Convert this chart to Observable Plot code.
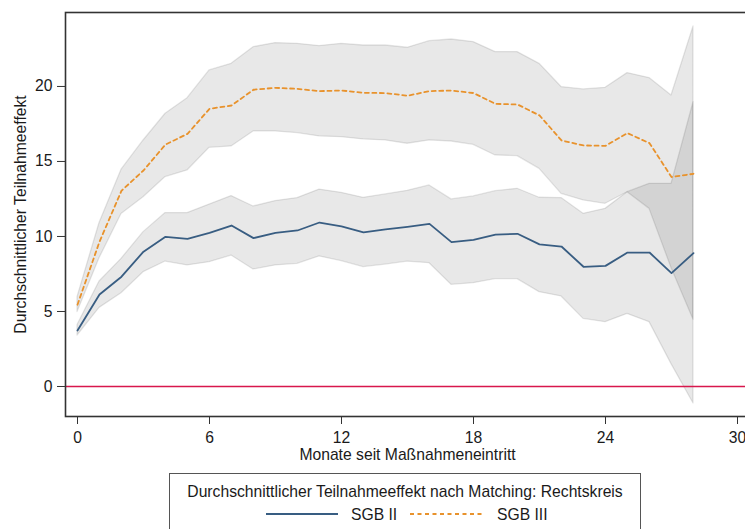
<!DOCTYPE html>
<html><head><meta charset="utf-8">
<script src="https://cdn.jsdelivr.net/npm/d3@7"></script>
<script src="https://cdn.jsdelivr.net/npm/@observablehq/plot@0.6"></script>
<style>
html,body{margin:0;padding:0;background:#fff;overflow:hidden;width:745px;height:529px;}
body{font-family:"Liberation Sans",Arial,sans-serif;position:relative;}
#chart{position:absolute;left:0;top:0;width:760px;}
#chart svg{max-width:none !important;}
#legend{position:absolute;left:169px;top:473px;width:472px;height:80px;border:1px solid #555;box-sizing:border-box;font-size:15.7px;color:#1a1a1a;line-height:20px;}
#legend .t{position:absolute;left:0;right:0;top:7.5px;text-align:center;white-space:nowrap;}
#legend .s{position:absolute;top:30.5px;white-space:nowrap;}
#legend svg{position:absolute;top:35px;}
</style></head><body>
<div id="chart"></div>
<div id="legend"></div>
<script>
// Months since program entry
const months = [0,1,2,3,4,5,6,7,8,9,10,11,12,13,14,15,16,17,18,19,20,21,22,23,24,25,26,27,28];
// SGB II: estimate and 95% CI
const sgb2   = [3.73,6.13,7.32,8.99,9.98,9.84,10.24,10.73,9.89,10.24,10.40,10.93,10.67,10.27,10.47,10.64,10.84,9.62,9.78,10.13,10.18,9.47,9.33,7.98,8.04,8.93,8.93,7.56,8.89];
const sgb2Lo = [3.40,5.24,6.22,7.62,8.33,8.07,8.29,8.73,7.80,8.07,8.18,8.67,8.36,7.96,8.13,8.33,8.22,6.78,6.89,7.16,7.16,6.29,6.00,4.51,4.29,4.84,4.29,1.49,-1.13];
const sgb2Hi = [4.10,7.00,8.51,10.29,11.56,11.56,12.13,12.69,12.00,12.36,12.56,13.13,12.91,12.58,12.80,13.04,13.40,12.47,12.67,13.02,13.18,12.58,12.56,11.51,11.84,12.95,13.51,13.51,18.95];
// SGB III: estimate and 95% CI
const sgb3   = [5.45,9.65,13.05,14.40,16.13,16.84,18.51,18.73,19.78,19.91,19.84,19.69,19.73,19.58,19.56,19.38,19.69,19.73,19.56,18.84,18.80,18.07,16.40,16.07,16.04,16.89,16.22,13.96,14.18];
const sgb3Lo = [4.96,8.55,11.50,12.62,13.96,14.40,15.91,16.00,17.00,17.00,16.89,16.67,16.62,16.47,16.40,16.18,16.40,16.33,16.11,15.40,15.36,14.51,12.84,12.40,12.18,12.95,11.84,7.90,4.45];
const sgb3Hi = [5.96,10.90,14.45,16.40,18.18,19.22,21.07,21.51,22.62,22.89,22.84,22.69,22.84,22.73,22.73,22.58,23.02,23.13,22.96,22.29,22.29,21.51,19.96,19.80,19.91,20.89,20.56,19.40,24.00];

const xTicks = [0,6,12,18,24,30];
const yTicks = [0,5,10,15,20];
const seriesNames = ["SGB II","SGB III"];
const xTitle = "Monate seit Maßnahmeneintritt";
const yTitle = "Durchschnittlicher Teilnahmeeffekt";
const legendTitle = "Durchschnittlicher Teilnahmeeffekt nach Matching: Rechtskreis";

const colors = {"SGB II":"#385d82","SGB III":"#e8922c"};

const rows = [];
months.forEach((m,i)=>{
  rows.push({m, s:"SGB II", v:sgb2[i], lo:sgb2Lo[i], hi:sgb2Hi[i]});
  rows.push({m, s:"SGB III", v:sgb3[i], lo:sgb3Lo[i], hi:sgb3Hi[i]});
});
const r2 = rows.filter(d=>d.s==="SGB II");
const r3 = rows.filter(d=>d.s==="SGB III");

const W = 760, ML = 65, x0px = 77, pxPerMonth = 22;
const chart = Plot.plot({
  width: W, height: 466,
  marginTop: 12, marginBottom: 50, marginLeft: ML, marginRight: 0,
  style: {fontFamily: '"Liberation Sans", Arial, sans-serif', fontSize: "15.7px", color: "#1a1a1a", background: "#fff", maxWidth: "none"},
  x: {domain: [(ML - x0px)/pxPerMonth, (W - x0px)/pxPerMonth]},
  y: {domain: [-2, 24.93]},
  marks: [
    Plot.areaY(r2, {x:"m", y1:"lo", y2:"hi", fill:"#000", fillOpacity:0.09, stroke:"#000", strokeOpacity:0.1, strokeWidth:1.3}),
    Plot.areaY(r3, {x:"m", y1:"lo", y2:"hi", fill:"#000", fillOpacity:0.09, stroke:"#000", strokeOpacity:0.1, strokeWidth:1.3}),
    Plot.ruleY([0], {stroke:"#d8174c", strokeWidth:1.5}),
    Plot.line(r2, {x:"m", y:"v", stroke:colors["SGB II"], strokeWidth:1.8}),
    Plot.line(r3, {x:"m", y:"v", stroke:colors["SGB III"], strokeWidth:1.8, strokeDasharray:"4,3.5"}),
    Plot.frame({stroke:"#333", strokeWidth:1.6}),
    Plot.axisX({ticks: xTicks, tickSize: 8, tickPadding: 7, label: null, stroke:"#333"}),
    Plot.axisY({ticks: yTicks, tickSize: 8, tickPadding: 5, label: null, stroke:"#333"}),
    Plot.text([xTitle], {x: (xTicks[0]+xTicks[xTicks.length-1])/2, frameAnchor:"bottom", lineAnchor:"bottom", dy: 43, fill:"#1a1a1a"}),
    Plot.text([yTitle], {frameAnchor:"left", textAnchor:"middle", rotate:-90, dx:-45, fill:"#1a1a1a"})
  ]
});
chart.style.maxWidth = "none";
document.getElementById("chart").appendChild(chart);

// Legend
const lg = document.getElementById("legend");
const t = document.createElement("div"); t.className="t"; t.textContent = legendTitle; lg.appendChild(t);
function sample(left, name){
  const s = document.createElementNS("http://www.w3.org/2000/svg","svg");
  s.setAttribute("width","72"); s.setAttribute("height","10");
  s.style.left = left+"px";
  const l = document.createElementNS("http://www.w3.org/2000/svg","line");
  l.setAttribute("x1","0"); l.setAttribute("x2","72"); l.setAttribute("y1","5"); l.setAttribute("y2","5");
  l.setAttribute("stroke", colors[name]); l.setAttribute("stroke-width","1.8");
  if(name==="SGB III") l.setAttribute("stroke-dasharray","4,3.5");
  s.appendChild(l); lg.appendChild(s);
}
function label(left, text){
  const d = document.createElement("div"); d.className="s"; d.style.left=left+"px"; d.textContent=text; lg.appendChild(d);
}
sample(96, seriesNames[0]); label(181, seriesNames[0]);
sample(240, seriesNames[1]); label(327, seriesNames[1]);
</script>
</body></html>
